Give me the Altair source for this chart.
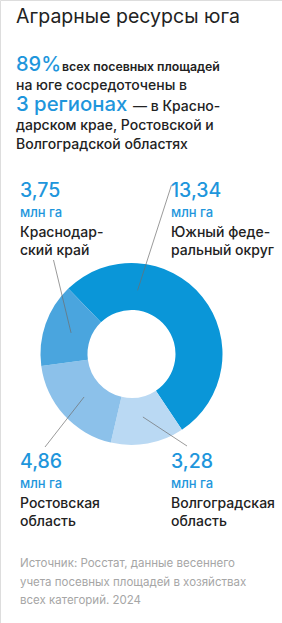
import math
import altair as alt
import pandas as pd

# ---- data ----
regions = ["Южный федеральный округ", "Волгоградская область", "Ростовская область", "Краснодарский край"]
values = [13.34, 3.28, 4.86, 3.75]
colors = ["#0a96d8", "#bad9f3", "#8cc1ea", "#4aa5de"]
leader_frac = [0.26, 0.5, 0.5, 0.5]

value_labels = ["13,34", "3,28", "4,86", "3,75"]
name_line1 = ["Южный феде-", "Волгоградская", "Ростовская", "Краснодар-"]
name_line2 = ["ральный округ", "область", "область", "ский край"]

title = "Аграрные ресурсы юга"
source_lines = [
    "Источник: Росстат, данные весеннего",
    "учета посевных площадей в хозяйствах",
    "всех категорий. 2024",
]

W, H = 282, 623
CX, CY = 131.5, 354
R_OUT, R_IN = 91, 44
START = math.radians(316)

BLUE = "#1e96dc"
DARK = "#222222"
FONT = "Inter"

df = pd.DataFrame({"region": regions, "value": values, "order": range(len(regions))})

donut = alt.Chart(df).mark_arc(outerRadius=R_OUT, innerRadius=R_IN).encode(
    theta=alt.Theta("value:Q", stack=True, scale=alt.Scale(range=[START, START + 2 * math.pi])),
    order=alt.Order("order:Q"),
    color=alt.Color("region:N", scale=alt.Scale(domain=regions, range=colors), legend=None),
    x=alt.value(CX),
    y=alt.value(CY),
)

# leader lines: inner end inside each slice, outer end near its label
total = sum(values)
label_anchor = {  # label block positions (x, first baseline)
    0: (171, 196.5),
    1: (171, 468),
    2: (20, 468),
    3: (20, 196.5),
}
leader_outer = [(171.5, 185), (187, 446), (45, 447), (53.5, 260)]
rows = []
cum = 0.0
for i, v in enumerate(values):
    a = START + 2 * math.pi * (cum + v * leader_frac[i]) / total
    cum += v
    r = 64
    rows.append({
        "x": CX + r * math.sin(a), "y": CY - r * math.cos(a),
        "x2": leader_outer[i][0], "y2": leader_outer[i][1],
    })
lines = alt.Chart(pd.DataFrame(rows)).mark_rule(color="#6f6f6f", strokeWidth=0.7).encode(
    x=alt.X("x:Q", scale=None), y=alt.Y("y:Q", scale=None),
    x2="x2:Q", y2="y2:Q",
)

def text_layer(recs, size, color, weight="normal"):
    return alt.Chart(pd.DataFrame(recs)).mark_text(
        align="left", baseline="alphabetic", font=FONT, fontSize=size,
        color=color, fontWeight=weight,
    ).encode(x=alt.X("x:Q", scale=None), y=alt.Y("y:Q", scale=None), text="t:N")

num_recs, unit_recs, name_recs = [], [], []
for i in range(len(regions)):
    x0, y0 = label_anchor[i]
    num_recs.append({"x": x0, "y": y0, "t": value_labels[i]})
    unit_recs.append({"x": x0, "y": y0 + 20, "t": "млн га"})
    name_recs.append({"x": x0, "y": y0 + 40, "t": name_line1[i]})
    name_recs.append({"x": x0, "y": y0 + 58, "t": name_line2[i]})

layers = [
    donut,
    lines,
    text_layer([{"x": 16, "y": 23, "t": title}], 19.5, DARK),
    text_layer([{"x": 16, "y": 71, "t": "89%"}], 20, BLUE, 500),
    text_layer([{"x": 16, "y": 111, "t": "3 регионах"}], 20.3, BLUE, 500),
    text_layer([{"x": 62, "y": 70.5, "t": "всех посевных площадей"}], 12.3, DARK, 600),
    text_layer([
        {"x": 16, "y": 89.5, "t": "на юге сосредоточены в"},
        {"x": 133, "y": 110.5, "t": "— в Красно-"},
        {"x": 16, "y": 130, "t": "дарском крае, Ростовской и"},
        {"x": 16, "y": 148.5, "t": "Волгоградской областях"},
    ], 14, DARK, 500),
    text_layer(num_recs, 19.5, BLUE, 500),
    text_layer(unit_recs, 13, BLUE, 500),
    text_layer(name_recs, 14, DARK, 500),
    text_layer([{"x": 20, "y": 567 + 18.5 * k, "t": s} for k, s in enumerate(source_lines)], 11.5, "#a6a6a6"),
]

chart = alt.layer(*layers).properties(
    width=W, height=H, autosize=alt.AutoSizeParams(type="none"), padding=0,
).configure_view(stroke=None).configure(background="white")

chart.save("out.html", embed_options={"renderer": "svg", "actions": False})
